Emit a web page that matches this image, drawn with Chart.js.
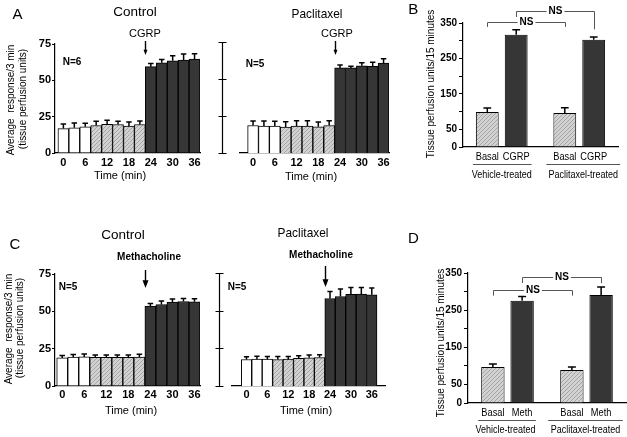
<!DOCTYPE html>
<html>
<head>
<meta charset="utf-8">
<script src="https://cdn.jsdelivr.net/npm/chart.js@4.4.1/dist/chart.umd.min.js"></script>
<style>
  body { margin: 0; background: #fff; }
  #fig { position: relative; width: 627px; height: 437px; }
  #fig canvas { position: absolute; }
</style>
</head>
<body>
<div id="fig">
  <canvas id="a1" width="205" height="195" style="left:0;top:0"></canvas>
  <canvas id="a2" width="195" height="195" style="left:205px;top:0"></canvas>
  <canvas id="b" width="222" height="195" style="left:405px;top:0"></canvas>
  <canvas id="c1" width="205" height="212" style="left:0;top:215px"></canvas>
  <canvas id="c2" width="195" height="212" style="left:205px;top:215px"></canvas>
  <canvas id="d" width="222" height="222" style="left:405px;top:215px"></canvas>
</div>
<script>
// time course (min) and which phase each 3-min bin belongs to
const times = [0, 3, 6, 9, 12, 15, 18, 21, 24, 27, 30, 33, 36];
const phases = ['pre', 'pre', 'pre', 'base', 'base', 'base', 'base', 'base', 'drug', 'drug', 'drug', 'drug', 'drug'];
const timeTicks = [0, 6, 12, 18, 24, 30, 36];

// A: CGRP
const ctrlCgrp = [16.8, 17.3, 18.0, 18.9, 19.8, 19.6, 18.6, 19.6, 59.4, 62.1, 63.5, 64.0, 64.6];
const ctrlCgrpErr = [3.2, 3.4, 2.5, 3.0, 2.7, 2.3, 2.8, 2.5, 2.2, 2.3, 3.4, 4.1, 3.7];
const paclCgrp = [18.6, 18.2, 18.2, 17.5, 18.2, 18.2, 17.7, 18.6, 57.5, 57.5, 58.9, 58.6, 60.7];
const paclCgrpErr = [3.0, 3.4, 3.2, 3.6, 3.6, 3.6, 3.2, 3.2, 2.0, 1.1, 2.0, 2.8, 3.0];

// C: methacholine
const ctrlMeth = [18.8, 19.3, 19.5, 19.2, 19.2, 19.2, 19.2, 19.4, 53.5, 54.6, 56.2, 56.6, 56.4];
const ctrlMethErr = [1.6, 1.8, 2.0, 1.6, 1.6, 1.6, 1.6, 1.8, 1.8, 2.3, 2.0, 2.0, 2.0];
const paclMeth = [17.6, 17.8, 17.8, 17.6, 17.8, 18.3, 18.7, 18.9, 58.1, 59.4, 60.8, 61.0, 60.5];
const paclMethErr = [1.8, 2.0, 1.8, 2.0, 1.8, 1.8, 1.8, 1.8, 4.7, 4.9, 4.6, 4.4, 4.5];

// B / D: totals per 15 min
const groups = ['Vehicle-treated', 'Paclitaxel-treated'];
const totalTicks = [0, 50, 150, 250, 350];
const basalB = [98.8, 96.0];
const basalBErr = [11, 15];
const cgrpB = [317, 303];
const cgrpBErr = [14, 7.5];
const basalD = [97, 89];
const basalDErr = [8, 8];
const methD = [275.6, 291];
const methDErr = [11.4, 21];

const FONT = "'Liberation Sans', Arial, sans-serif";
Chart.defaults.font.family = FONT;
Chart.defaults.color = '#000';

function hatchPattern() {
  const c = document.createElement('canvas');
  c.width = 4; c.height = 4;
  const g = c.getContext('2d');
  g.fillStyle = '#d2d2d2';
  g.fillRect(0, 0, 4, 4);
  g.strokeStyle = '#a4a4a4';
  g.lineWidth = 1;
  g.beginPath(); g.moveTo(-1, 5); g.lineTo(5, -1); g.stroke();
  return g.createPattern(c, 'repeat');
}
const HATCH = hatchPattern();
const DARK = '#363636';
const phaseFill = { pre: '#ffffff', base: HATCH, drug: DARK };

// upward-only error bars
const errorBars = {
  id: 'errorBars',
  afterDatasetsDraw(chart) {
    const ctx = chart.ctx, y = chart.scales.y;
    chart.data.datasets.forEach((ds, i) => {
      if (!ds.errors) return;
      chart.getDatasetMeta(i).data.forEach((bar, j) => {
        const d = ds.data[j];
        const v = typeof d === 'object' ? d.y : d;
        const top = y.getPixelForValue(v + ds.errors[j]);
        const hw = bar.width * (ds.capFrac || 0.25);
        ctx.save();
        ctx.strokeStyle = '#000';
        ctx.lineWidth = 1.5;
        ctx.beginPath();
        ctx.moveTo(bar.x, bar.y);
        ctx.lineTo(bar.x, top);
        ctx.moveTo(bar.x - hw, top);
        ctx.lineTo(bar.x + hw, top);
        ctx.stroke();
        ctx.restore();
      });
    });
  }
};

function putText(ctx, s, x, y, font, sx, rot) {
  ctx.save();
  ctx.font = font;
  ctx.textAlign = 'center';
  ctx.textBaseline = 'middle';
  ctx.translate(x, y);
  if (rot) ctx.rotate(-Math.PI / 2);
  ctx.scale(sx || 1, 1);
  ctx.fillText(s, 0, 0);
  ctx.restore();
}

// labels, arrows, detached axes, brackets
const notes = {
  id: 'notes',
  afterDraw(chart, args, opts) {
    const ctx = chart.ctx;
    const items = opts.items || [];
    const barOf = (ds, i) => chart.getDatasetMeta(ds).data[i];
    ctx.save();
    items.forEach(it => {
      ctx.fillStyle = '#000';
      ctx.strokeStyle = '#000';
      if (it.text !== undefined) {
        putText(ctx, it.text, it.x, it.y, (it.bold ? 'bold ' : '') + it.size + 'px ' + FONT, it.sx, it.rot);
      } else if (it.arrowBar !== undefined) {
        const b = barOf(0, it.arrowBar);
        const x = Math.round(b.x - b.width / 2) + 0.5;
        const hw = it.head / 2, hh = it.head * 1.3;
        ctx.lineWidth = 1.4;
        ctx.beginPath(); ctx.moveTo(x, it.y1); ctx.lineTo(x, it.y2 - hh + 1); ctx.stroke();
        ctx.beginPath(); ctx.moveTo(x - hw, it.y2 - hh); ctx.lineTo(x + hw, it.y2 - hh); ctx.lineTo(x, it.y2); ctx.closePath(); ctx.fill();
      } else if (it.spine !== undefined) {
        const y = chart.scales.y;
        const x = Math.round(chart.chartArea.left - it.spine) + 0.5;
        ctx.lineWidth = 1.2;
        ctx.beginPath();
        ctx.moveTo(x, y.getPixelForValue(y.min));
        ctx.lineTo(x, y.getPixelForValue(y.max));
        y.ticks.forEach(t => {
          const p = Math.round(y.getPixelForValue(t.value)) + 0.5;
          ctx.moveTo(x - 4, p); ctx.lineTo(x + 4, p);
        });
        ctx.stroke();
      } else if (it.underY !== undefined) {
        const f = it.size + 'px ' + FONT;
        chart.data.datasets.forEach((ds, i) => {
          chart.getDatasetMeta(i).data.forEach(b => putText(ctx, ds.label, b.x, it.underY, f, it.sx));
        });
        ctx.strokeStyle = '#555';
        ctx.lineWidth = 1;
        const x = chart.scales.x;
        chart.data.labels.forEach((g, j) => {
          const l = barOf(0, j), r = barOf(1, j);
          const ly = Math.round(it.lineY) + 0.5;
          ctx.beginPath();
          ctx.moveTo(l.x - l.width / 2 - it.ext[j][0], ly);
          ctx.lineTo(r.x + r.width / 2 + it.ext[j][1], ly);
          ctx.stroke();
          putText(ctx, g, x.getPixelForTick(j) + it.shift[j], it.groupY, it.groupSize + 'px ' + FONT, it.groupSx);
        });
      } else if (it.bracket) {
        const y = chart.scales.y;
        const a = barOf(it.bracket[0], it.bracket[1]);
        const b = barOf(it.bracket[2], it.bracket[3]);
        const xa = Math.round(a.x) + 0.5, xb = Math.round(b.x) + 0.5;
        const top = Math.round(y.getPixelForValue(it.top)) + 0.5;
        ctx.strokeStyle = '#555';
        ctx.lineWidth = 1;
        ctx.beginPath();
        ctx.moveTo(xa, y.getPixelForValue(it.legs[0]));
        ctx.lineTo(xa, top);
        ctx.lineTo(xb, top);
        ctx.lineTo(xb, y.getPixelForValue(it.legs[1]));
        ctx.stroke();
        ctx.font = 'bold 10px ' + FONT;
        const mx = (xa + xb) / 2;
        const w = ctx.measureText('NS').width + 4;
        ctx.fillStyle = '#fff';
        ctx.fillRect(mx - w / 2, top - 5, w, 10);
        ctx.fillStyle = '#000';
        putText(ctx, 'NS', mx, top, 'bold 10px ' + FONT);
      }
    });
    ctx.restore();
  }
};

function timeChart(id, vals, errs, o) {
  return new Chart(document.getElementById(id), {
    type: 'bar',
    data: {
      datasets: [{
        data: times.map((t, i) => ({ x: t, y: vals[i] })),
        errors: errs,
        capFrac: 0.25,
        backgroundColor: phases.map(p => phaseFill[p]),
        borderColor: '#000',
        borderWidth: 1,
        categoryPercentage: 1,
        barPercentage: 1
      }]
    },
    options: {
      responsive: false,
      animation: false,
      devicePixelRatio: 1,
      layout: { padding: { left: o.padL, top: o.padT, right: o.padR, bottom: 0 } },
      plugins: { legend: { display: false }, tooltip: { enabled: false }, notes: { items: o.notes } },
      scales: {
        x: {
          type: 'linear', min: o.xMin, max: o.xMax, offset: false,
          afterBuildTicks: s => { s.ticks = timeTicks.map(v => ({ value: v })); },
          afterFit: s => { s.height = o.xH; },
          ticks: { padding: o.tickPad, autoSkip: false, maxRotation: 0, font: { size: 11, weight: 'bold' }, callback: v => String(v) },
          grid: { display: false, drawTicks: false, offset: false },
          border: { display: true, color: '#000', width: 1.2 }
        },
        y: {
          min: 0, max: 75,
          display: !o.spine,
          afterFit: s => { s.width = o.yWidth || 0; },
          ticks: { stepSize: 25, padding: 1, font: { size: 11, weight: 'bold' } },
          grid: { drawOnChartArea: false, drawTicks: true, tickLength: 3, color: '#000' },
          border: { display: true, color: '#000', width: 1.2 }
        }
      }
    },
    plugins: [errorBars, notes]
  });
}

function totalChart(id, basal, basalErr, drug, drugErr, drugLabel, o) {
  return new Chart(document.getElementById(id), {
    type: 'bar',
    data: {
      labels: groups,
      datasets: [
        { label: 'Basal', data: basal, errors: basalErr, capFrac: 0.17, backgroundColor: HATCH, borderColor: '#000', borderWidth: 1, categoryPercentage: o.catPct, barPercentage: o.barPct },
        { label: drugLabel, data: drug, errors: drugErr, capFrac: 0.17, backgroundColor: DARK, borderColor: '#000', borderWidth: 1, categoryPercentage: o.catPct, barPercentage: o.barPct }
      ]
    },
    options: {
      responsive: false,
      animation: false,
      devicePixelRatio: 1,
      layout: { padding: { left: 0, top: o.padT, right: o.padR, bottom: 0 } },
      plugins: { legend: { display: false }, tooltip: { enabled: false }, notes: { items: o.notes } },
      scales: {
        x: {
          afterFit: s => { s.height = o.xH; },
          ticks: { display: false },
          grid: { display: false, drawTicks: false },
          border: { display: true, color: '#000', width: 1.2 }
        },
        y: {
          min: 0, max: 350,
          afterFit: s => { s.width = o.yWidth; },
          ticks: { stepSize: 50, padding: 2, font: { size: 10, weight: 'bold' }, callback: v => totalTicks.includes(v) ? String(v) : '' },
          grid: { drawOnChartArea: false, drawTicks: true, tickLength: 4, color: '#000' },
          border: { display: true, color: '#000', width: 1.2 }
        }
      }
    },
    plugins: [errorBars, notes]
  });
}

const yTitle1 = 'Average  response/3 min';
const yTitle2 = '(tissue perfusion units)';
const yTitleTot = 'Tissue perfusion units/15 minutes';

timeChart('a1', ctrlCgrp, ctrlCgrpErr, {
  padL: 0, yWidth: 55, padT: 44, padR: 5, xH: 42, xMin: -2.3, xMax: 37.5, tickPad: 3,
  notes: [
    { text: 'A', x: 17.5, y: 15, size: 15 },
    { text: 'Control', x: 135, y: 12, size: 13.5 },
    { text: 'CGRP', x: 145, y: 33.5, size: 11 },
    { arrowBar: 8, y1: 41, y2: 55, head: 4 },
    { text: 'N=6', x: 72, y: 62, size: 10, bold: true },
    { text: 'Time (min)', x: 120, y: 176, size: 11 },
    { text: yTitle1, x: 11, y: 100, size: 10.5, sx: 0.95, rot: true },
    { text: yTitle2, x: 23, y: 99, size: 10.5, sx: 0.95, rot: true }
  ]
});

timeChart('a2', paclCgrp, paclCgrpErr, {
  spine: true, padL: 35, padT: 42, padR: 11, xH: 42, xMin: -3.6, xMax: 37.5, tickPad: 3,
  notes: [
    { spine: 18.3 },
    { text: 'Paclitaxel', x: 112, y: 14, size: 13.5, sx: 0.88 },
    { text: 'CGRP', x: 132, y: 33.5, size: 11 },
    { arrowBar: 8, y1: 41, y2: 55, head: 4 },
    { text: 'N=5', x: 50, y: 64, size: 10, bold: true },
    { text: 'Time (min)', x: 106, y: 177, size: 11 }
  ]
});

timeChart('c1', ctrlMeth, ctrlMethErr, {
  padL: 0, yWidth: 55, padT: 59, padR: 5, xH: 41, xMin: -1.96, xMax: 37.5, tickPad: 2,
  notes: [
    { text: 'C', x: 15, y: 30, size: 15 },
    { text: 'Control', x: 123, y: 20, size: 13.5 },
    { text: 'Methacholine', x: 149, y: 42, size: 10, bold: true },
    { arrowBar: 8, y1: 55, y2: 73, head: 6 },
    { text: 'N=5', x: 68, y: 72, size: 10, bold: true },
    { text: 'Time (min)', x: 131, y: 196, size: 11 },
    { text: yTitle1, x: 9, y: 114, size: 10.5, sx: 0.95, rot: true },
    { text: yTitle2, x: 20, y: 113, size: 10.5, sx: 0.95, rot: true }
  ]
});

timeChart('c2', paclMeth, paclMethErr, {
  spine: true, padL: 27, padT: 58, padR: 15, xH: 41, xMin: -4.17, xMax: 39.8, tickPad: 2,
  notes: [
    { spine: 13.4 },
    { text: 'Paclitaxel', x: 98, y: 18, size: 13.5, sx: 0.88 },
    { text: 'Methacholine', x: 116, y: 40, size: 10, bold: true },
    { arrowBar: 8, y1: 51, y2: 72, head: 6 },
    { text: 'N=5', x: 32, y: 72, size: 10, bold: true },
    { text: 'Time (min)', x: 101, y: 196, size: 11 }
  ]
});

totalChart('b', basalB, basalBErr, cgrpB, cgrpBErr, 'CGRP', {
  yWidth: 58, padT: 23, padR: 9, xH: 48, catPct: 0.746, barPct: 0.79,
  notes: [
    { text: 'B', x: 8.3, y: 10, size: 15 },
    { text: yTitleTot, x: 26.7, y: 84, size: 10, rot: true },
    { underY: 156.7, lineY: 164.3, size: 10.5, sx: 0.88, ext: [[3, 4], [7, 15]],
      groupY: 175, groupSize: 10, groupSx: 0.9, shift: [0, 4] },
    { bracket: [0, 0, 0, 1], top: 352, legs: [339, 339] },
    { bracket: [1, 0, 1, 1], top: 383, legs: [367, 332] }
  ]
});

totalChart('d', basalD, basalDErr, methD, methDErr, 'Meth', {
  yWidth: 63, padT: 58, padR: 1, xH: 34, catPct: 0.74, barPct: 0.8,
  notes: [
    { text: 'D', x: 8.3, y: 24.3, size: 15 },
    { text: yTitleTot, x: 36.7, y: 128, size: 10, rot: true },
    { underY: 197.7, lineY: 205, size: 10.5, sx: 0.88, ext: [[3, 2], [12, 10]],
      groupY: 215, groupSize: 10, groupSx: 0.9, shift: [-2, -1] },
    { bracket: [0, 0, 0, 1], top: 303, legs: [289, 289] },
    { bracket: [1, 0, 1, 1], top: 338, legs: [323, 323] }
  ]
});
</script>
</body>
</html>
